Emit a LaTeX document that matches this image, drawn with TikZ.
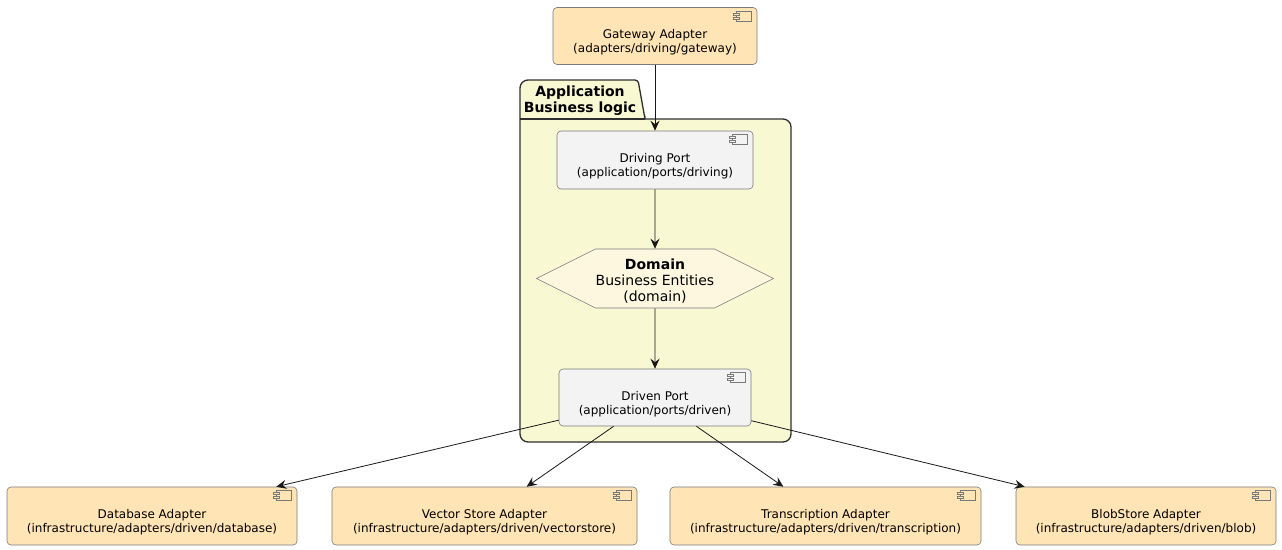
\documentclass[tikz,border=0pt]{standalone}
\usepackage{fontspec}
\setmainfont{DejaVu Sans}
\usetikzlibrary{positioning}
\usetikzlibrary{arrows.meta, shapes.symbols}
\definecolor{adaptfill}{HTML}{FFE4B5}
\definecolor{portfill}{HTML}{F3F3F3}
\definecolor{pkgfill}{HTML}{F8F8D3}
\definecolor{domfill}{HTML}{FEF7DF}
\definecolor{edgegray}{HTML}{7A7A7A}
\definecolor{ink}{HTML}{181818}
\newcommand{\compicon}[2]{%
\draw[edgegray,line width=0.5pt,fill=#2] ([xshift=-21pt,yshift=-4pt]#1.north east) rectangle ++(15,10);
\draw[edgegray,line width=0.5pt,fill=#2] ([xshift=-24pt,yshift=-6pt]#1.north east) rectangle ++(6,2);
\draw[edgegray,line width=0.5pt,fill=#2] ([xshift=-24pt,yshift=-10pt]#1.north east) rectangle ++(6,2);
}
\newcommand{\droptext}{\rule{0pt}{22pt}}

\begin{document}
\begin{tikzpicture}[x=1pt,y=-1pt,
  comp/.style={rectangle,draw=edgegray,line width=0.6pt,rounded corners=4pt,
    align=center,font=\fontsize{12}{14}\selectfont,minimum height=57pt},
  adapter/.style={comp,fill=adaptfill},
  port/.style={comp,fill=portfill},
  pkg/.style={draw=ink!90,line width=1.3pt,fill=pkgfill},
  flow/.style={ink,line width=0.8pt,-{Stealth[length=10pt,width=9pt,inset=3.5pt]}}]
\useasboundingbox (0,0) rectangle (1282,549);

\draw[pkg] (645,119) [rounded corners=8pt] -- (791,119) -- (791,442) -- (520,442) -- (520,80) [rounded corners=3pt] -- (638,80) -- (645,119) [sharp corners] -- cycle;
\draw[pkg] (520,119) -- (645,119);
\node[font=\bfseries\fontsize{14}{16}\selectfont,align=center] (pkgtitle) at (580,101) {Application\\Business logic};

\node[adapter,minimum width=204pt] (gw) at (655,36) {\droptext Gateway Adapter\\(adapters/driving/gateway)};
\compicon{gw}{adaptfill}
\node[port,minimum width=196pt,minimum height=58pt] (drv) at (655,160) {\droptext Driving Port\\(application/ports/driving)};
\compicon{drv}{portfill}
\node[signal,signal to=west and east,signal pointer angle=53.13,draw=edgegray,line width=0.6pt,fill=domfill,
  minimum width=237pt,minimum height=59pt,inner sep=0pt,align=center,font=\fontsize{14}{16}\selectfont] (dom) at (655,278.5)
  {\rule{0pt}{15pt}\textbf{Domain}\\Business Entities\\(domain)};
\node[port,minimum width=192pt] (dvn) at (655,397.5) {\droptext Driven Port\\(application/ports/driven)};
\compicon{dvn}{portfill}

\node[adapter,minimum width=290pt,minimum height=58pt] (db) at (152,516) {\droptext Database Adapter\\(infrastructure/adapters/driven/database)};
\compicon{db}{adaptfill}
\node[adapter,minimum width=305pt,minimum height=58pt] (vec) at (484.5,516) {\droptext Vector Store Adapter\\(infrastructure/adapters/driven/vectorstore)};
\compicon{vec}{adaptfill}
\node[adapter,minimum width=311pt,minimum height=58pt] (trans) at (825.5,516) {\droptext Transcription Adapter\\(infrastructure/adapters/driven/transcription)};
\compicon{trans}{adaptfill}
\node[adapter,minimum width=260pt,minimum height=58pt] (blob) at (1146,516) {\droptext BlobStore Adapter\\(infrastructure/adapters/driven/blob)};
\compicon{blob}{adaptfill}

\draw[flow] (gw) -- (drv);
\draw[flow] (drv) -- (dom);
\draw[flow] (dom) -- (dvn);
\draw[flow] (dvn) -- (db);
\draw[flow] (dvn) -- (vec);
\draw[flow] (dvn) -- (trans);
\draw[flow] (dvn) -- (blob);

\end{tikzpicture}
\end{document}
